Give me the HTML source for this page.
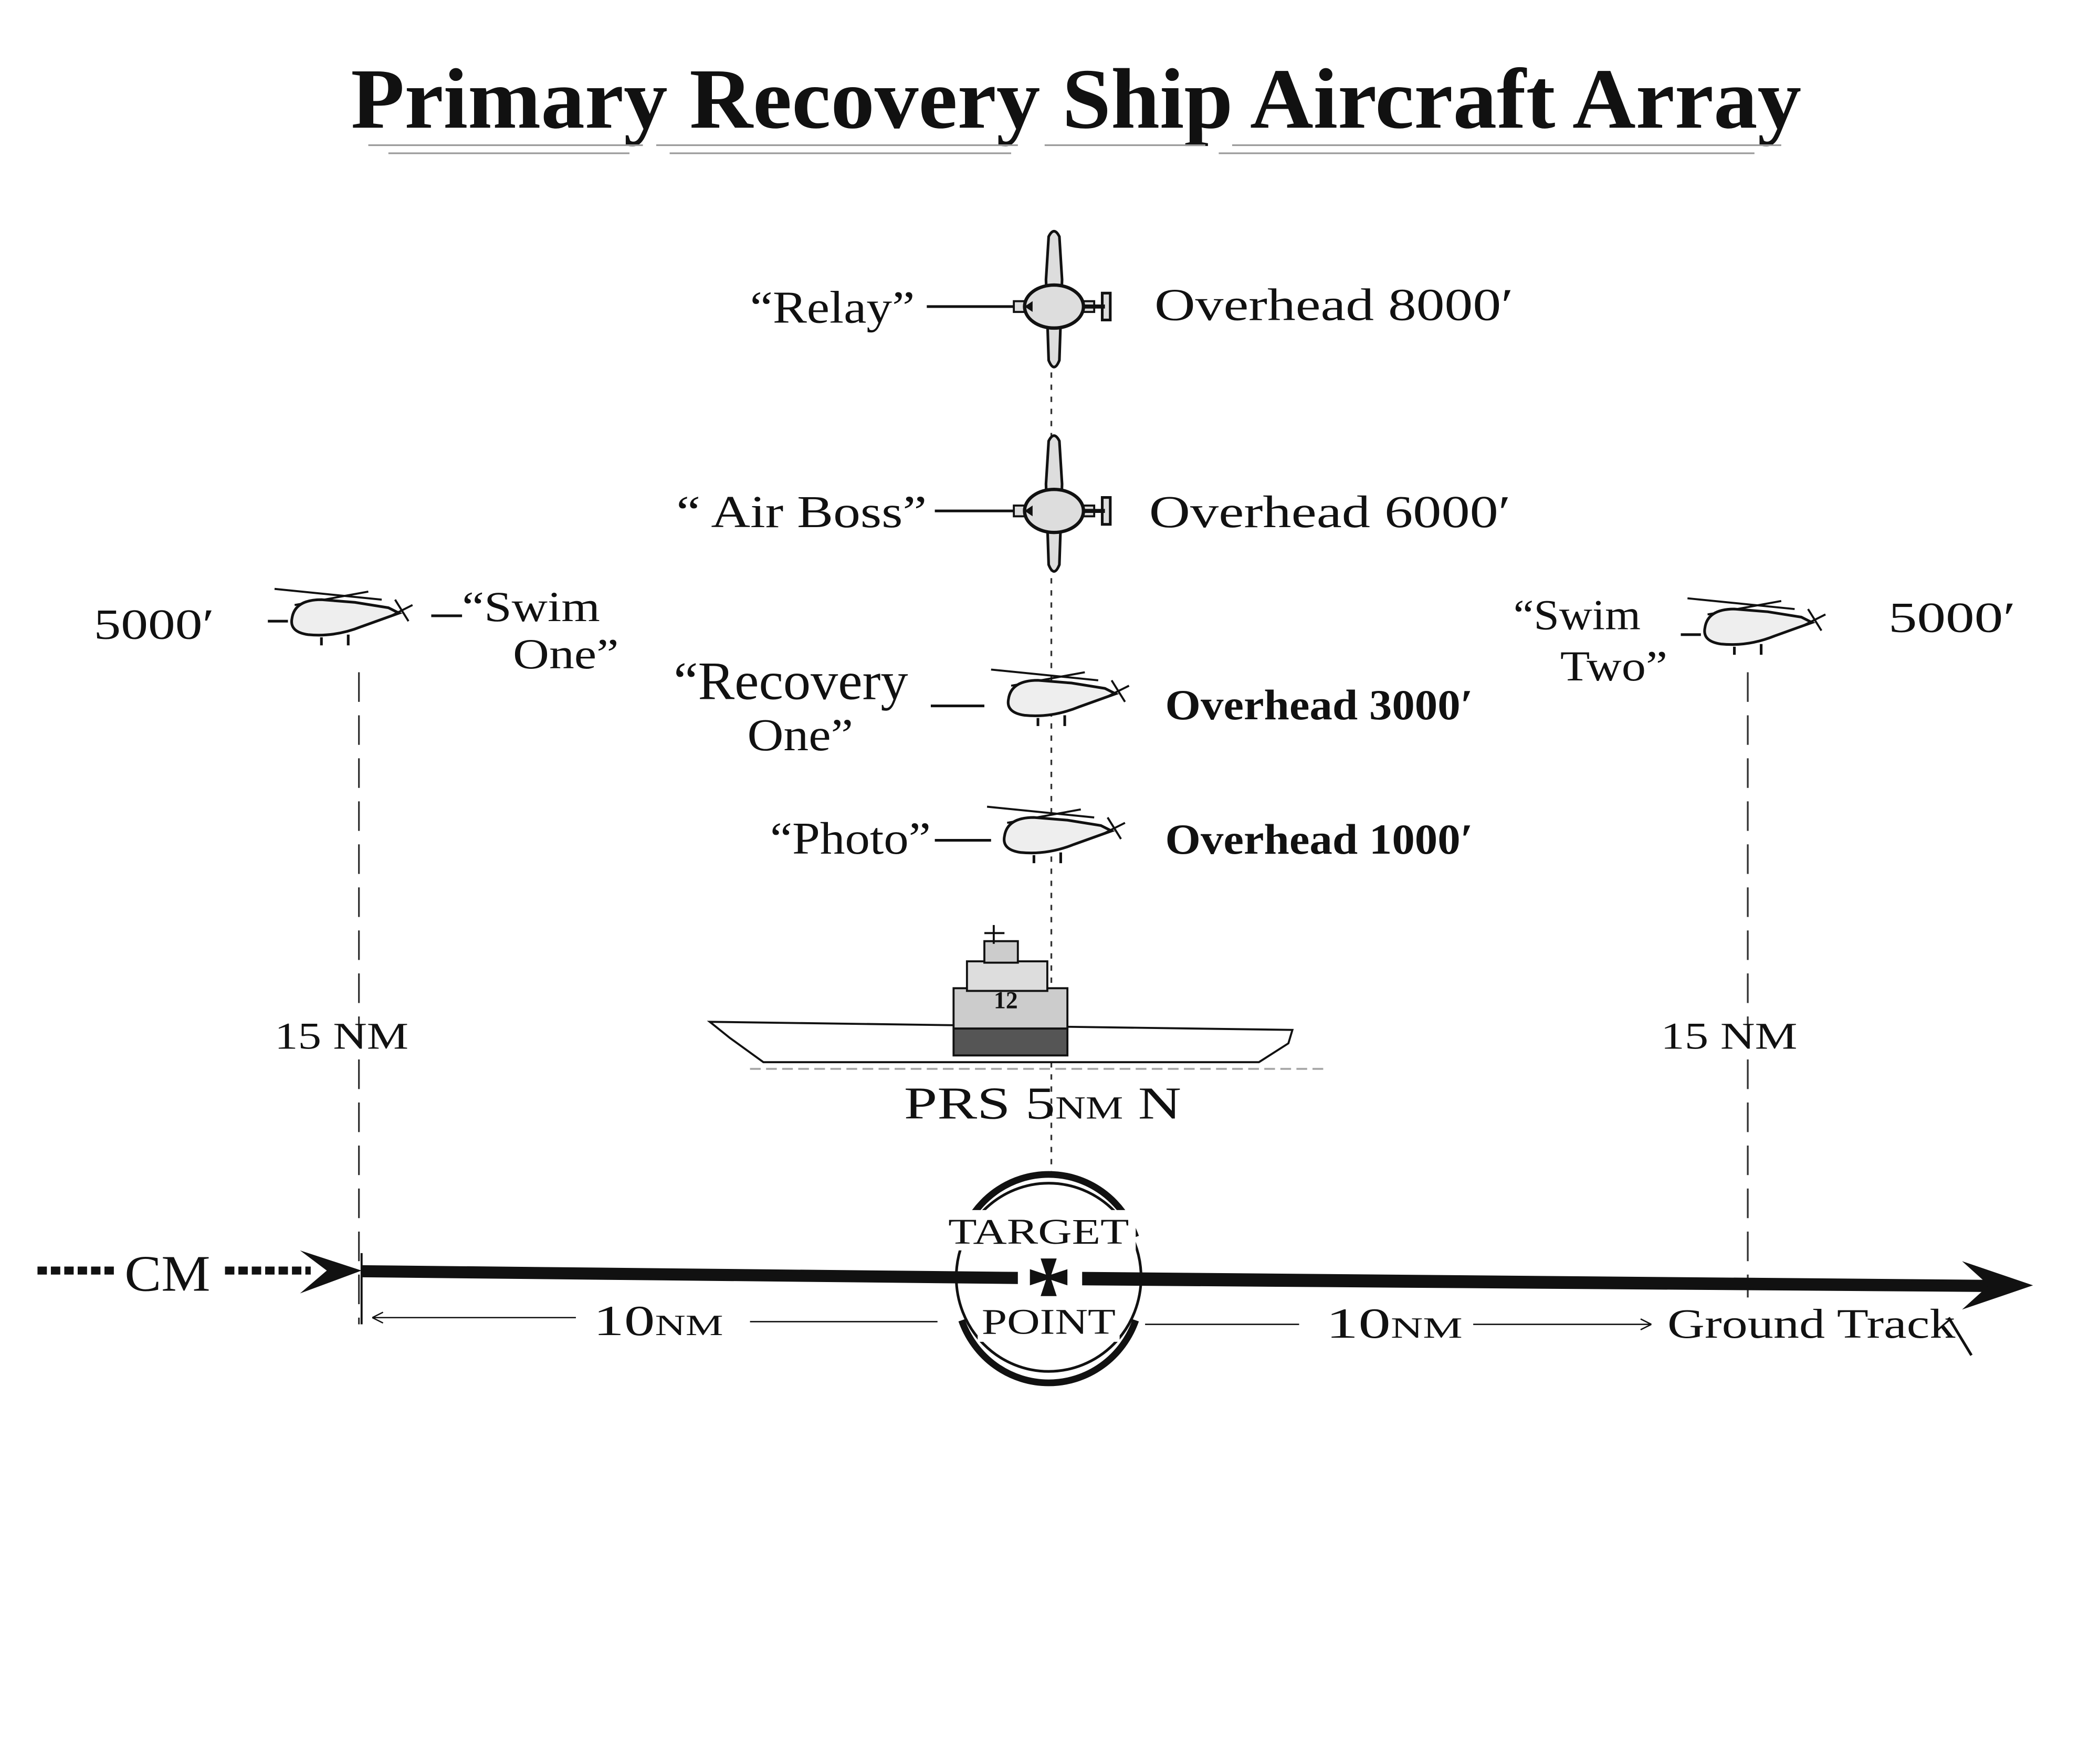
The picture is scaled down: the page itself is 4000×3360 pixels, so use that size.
<!DOCTYPE html>
<html><head><meta charset="utf-8"><style>
html,body{margin:0;padding:0;background:#fff;}
svg{display:block;}
text{font-family:"Liberation Serif",serif;fill:#111;}
</style></head><body>
<svg width="4000" height="3360" viewBox="0 0 1568 1312" preserveAspectRatio="none" xmlns="http://www.w3.org/2000/svg">
<defs>
<g id="plane">
  <path d="M-4,-52 Q0,-60 4,-52 L6,-20 L4,40 Q0,50 -4,40 L-6,-20 Z" fill="#ddd" stroke="#111" stroke-width="2"/>
  <path d="M-30,-4 L30,-4 L30,4 L-30,4 Z" fill="#ddd" stroke="#111" stroke-width="1.5"/>
  <ellipse cx="0" cy="0" rx="22" ry="16" fill="#ddd" stroke="#111" stroke-width="2.5"/>
  <path d="M-22,0 L-16,-4 L-16,4 Z" fill="#111"/>
  <rect x="36" y="-10" width="6" height="20" fill="#ddd" stroke="#111" stroke-width="2"/>
  <line x1="22" y1="0" x2="38" y2="0" stroke="#111" stroke-width="3"/>
</g>
<g id="heli">
  <line x1="-45" y1="-22" x2="35" y2="-14" stroke="#111" stroke-width="1.5"/>
  <line x1="-30" y1="-10" x2="25" y2="-20" stroke="#111" stroke-width="1.5"/>
  <path d="M-32,0 Q-30,-14 -10,-14 L15,-12 L40,-8 L48,-4 L20,6 Q0,14 -20,12 Q-34,10 -32,0 Z" fill="#eee" stroke="#111" stroke-width="2"/>
  <line x1="45" y1="-14" x2="55" y2="2" stroke="#111" stroke-width="1.5"/>
  <line x1="42" y1="-2" x2="58" y2="-10" stroke="#111" stroke-width="1.5"/>
  <line x1="-10" y1="14" x2="-10" y2="20" stroke="#111" stroke-width="2"/>
  <line x1="10" y1="12" x2="10" y2="20" stroke="#111" stroke-width="2"/>
</g>
</defs>

<text x="262" y="95" font-size="64" font-weight="bold" textLength="1083" lengthAdjust="spacingAndGlyphs">Primary Recovery Ship Aircraft Array</text>
<g stroke="#999" stroke-width="1.2">
<line x1="275" y1="108" x2="480" y2="108"/><line x1="290" y1="114" x2="470" y2="114"/>
<line x1="490" y1="108" x2="760" y2="108"/><line x1="500" y1="114" x2="755" y2="114"/>
<line x1="780" y1="108" x2="900" y2="108"/><line x1="910" y1="114" x2="1310" y2="114"/>
<line x1="920" y1="108" x2="1330" y2="108"/>
</g>

<line x1="785" y1="250" x2="785" y2="875" stroke="#333" stroke-width="1.3" stroke-dasharray="4,5"/>

<text x="560" y="240" font-size="34" textLength="123" lengthAdjust="spacingAndGlyphs">“Relay”</text>
<line x1="692" y1="228" x2="758" y2="228" stroke="#111" stroke-width="2"/>
<use href="#plane" x="787" y="228"/>
<text x="862" y="238" font-size="34" textLength="268" lengthAdjust="spacingAndGlyphs">Overhead 8000′</text>

<text x="505" y="392" font-size="34" textLength="187" lengthAdjust="spacingAndGlyphs">“ Air Boss”</text>
<line x1="698" y1="380" x2="760" y2="380" stroke="#111" stroke-width="2"/>
<use href="#plane" x="787" y="380"/>
<text x="858" y="392" font-size="34" textLength="270" lengthAdjust="spacingAndGlyphs">Overhead 6000′</text>

<use href="#heli" x="250" y="460"/>
<line x1="200" y1="462" x2="215" y2="462" stroke="#111" stroke-width="2"/>
<line x1="322" y1="458" x2="345" y2="458" stroke="#111" stroke-width="2"/>
<text x="70" y="475" font-size="32" textLength="90" lengthAdjust="spacingAndGlyphs">5000′</text>
<text x="345" y="462" font-size="32" textLength="103" lengthAdjust="spacingAndGlyphs">“Swim</text>
<text x="383" y="497" font-size="32" textLength="79" lengthAdjust="spacingAndGlyphs">One”</text>

<use href="#heli" x="1305" y="467"/>
<line x1="1255" y1="472" x2="1270" y2="472" stroke="#111" stroke-width="2"/>
<text x="1130" y="468" font-size="32" textLength="95" lengthAdjust="spacingAndGlyphs">“Swim</text>
<text x="1165" y="506" font-size="32" textLength="80" lengthAdjust="spacingAndGlyphs">Two”</text>
<text x="1410" y="470" font-size="32" textLength="95" lengthAdjust="spacingAndGlyphs">5000′</text>

<text x="503" y="520" font-size="40" textLength="175" lengthAdjust="spacingAndGlyphs">“Recovery</text>
<text x="558" y="558" font-size="34" textLength="79" lengthAdjust="spacingAndGlyphs">One”</text>
<line x1="695" y1="525" x2="735" y2="525" stroke="#111" stroke-width="2"/>
<use href="#heli" x="785" y="520"/>
<text x="870" y="535" font-size="32" font-weight="bold" textLength="230" lengthAdjust="spacingAndGlyphs">Overhead 3000′</text>

<text x="575" y="635" font-size="34" textLength="120" lengthAdjust="spacingAndGlyphs">“Photo”</text>
<line x1="698" y1="625" x2="740" y2="625" stroke="#111" stroke-width="2"/>
<use href="#heli" x="782" y="622"/>
<text x="870" y="635" font-size="32" font-weight="bold" textLength="230" lengthAdjust="spacingAndGlyphs">Overhead 1000′</text>

<g stroke="#111" stroke-width="1.5">
<path d="M530,760 L965,766 L962,776 L940,790 L570,790 L545,772 Z" fill="#fff"/>
<rect x="712" y="735" width="85" height="30" fill="#ccc"/>
<rect x="722" y="715" width="60" height="22" fill="#ddd"/>
<rect x="735" y="700" width="25" height="16" fill="#ccc"/>
<line x1="742" y1="688" x2="742" y2="702"/>
<line x1="735" y1="694" x2="750" y2="694"/>
<rect x="712" y="765" width="85" height="20" fill="#555"/>
<line x1="560" y1="795" x2="990" y2="795" stroke="#aaa" stroke-dasharray="8,4"/>
</g>
<text x="742" y="750" font-size="18" font-weight="bold">12</text>
<text x="675" y="832" font-size="34" textLength="207" lengthAdjust="spacingAndGlyphs">PRS 5<tspan font-size="24">NM</tspan> N</text>

<line x1="268" y1="500" x2="268" y2="985" stroke="#333" stroke-width="1.3" stroke-dasharray="22,10"/>
<line x1="1305" y1="500" x2="1305" y2="965" stroke="#333" stroke-width="1.3" stroke-dasharray="22,10"/>
<text x="205" y="780" font-size="28" textLength="100" lengthAdjust="spacingAndGlyphs">15 NM</text>
<text x="1240" y="780" font-size="28" textLength="102" lengthAdjust="spacingAndGlyphs">15 NM</text>

<line x1="28" y1="945" x2="86" y2="945" stroke="#111" stroke-width="6" stroke-dasharray="7,3"/>
<text x="93" y="960" font-size="38" textLength="64" lengthAdjust="spacingAndGlyphs">CM</text>
<line x1="168" y1="945" x2="232" y2="945" stroke="#111" stroke-width="6" stroke-dasharray="7,3"/>
<path d="M224,930 L270,945 L224,962 L244,945 Z" fill="#111"/>
<path d="M270,941 L760,946 L760,955 L270,950 Z" fill="#111"/>
<path d="M808,946 L1495,952 L1495,961 L808,956 Z" fill="#111"/>
<path d="M1465,938 L1518,956 L1465,974 L1485,956 Z" fill="#111"/>
<line x1="270" y1="932" x2="270" y2="985" stroke="#111" stroke-width="1.5"/>

<ellipse cx="783" cy="950" rx="69" ry="70" fill="none" stroke="#111" stroke-width="2"/>
<path d="M718,920 A69,70 0 0,1 848,920" fill="none" stroke="#111" stroke-width="5"/>
<path d="M718,982 A69,70 0 0,0 848,982" fill="none" stroke="#111" stroke-width="5"/>
<rect x="708" y="900" width="140" height="30" fill="#fff"/>
<rect x="730" y="968" width="106" height="30" fill="#fff"/>
<text x="708" y="925" font-size="27" textLength="135" lengthAdjust="spacingAndGlyphs">TARGET</text>
<text x="733" y="992" font-size="27" textLength="100" lengthAdjust="spacingAndGlyphs">POINT</text>
<path d="M777,936 L789,936 L785,948 L797,944 L797,956 L785,952 L789,964 L777,964 L781,952 L769,956 L769,944 L781,948 Z" fill="#111"/>

<line x1="278" y1="980" x2="430" y2="980" stroke="#111" stroke-width="1"/>
<path d="M278,980 L286,976 M278,980 L286,984" stroke="#111" stroke-width="1"/>
<text x="443" y="993" font-size="32" textLength="97" lengthAdjust="spacingAndGlyphs">10<tspan font-size="22">NM</tspan></text>
<line x1="560" y1="983" x2="700" y2="983" stroke="#111" stroke-width="1"/>
<line x1="855" y1="985" x2="970" y2="985" stroke="#111" stroke-width="1"/>
<text x="990" y="995" font-size="32" textLength="102" lengthAdjust="spacingAndGlyphs">10<tspan font-size="22">NM</tspan></text>
<line x1="1100" y1="985" x2="1233" y2="985" stroke="#111" stroke-width="1"/>
<path d="M1233,985 L1225,981 M1233,985 L1225,989" stroke="#111" stroke-width="1"/>
<text x="1245" y="995" font-size="31" textLength="215" lengthAdjust="spacingAndGlyphs">Ground Track</text>
<line x1="1455" y1="980" x2="1472" y2="1008" stroke="#111" stroke-width="2"/>
</svg>
</body></html>
